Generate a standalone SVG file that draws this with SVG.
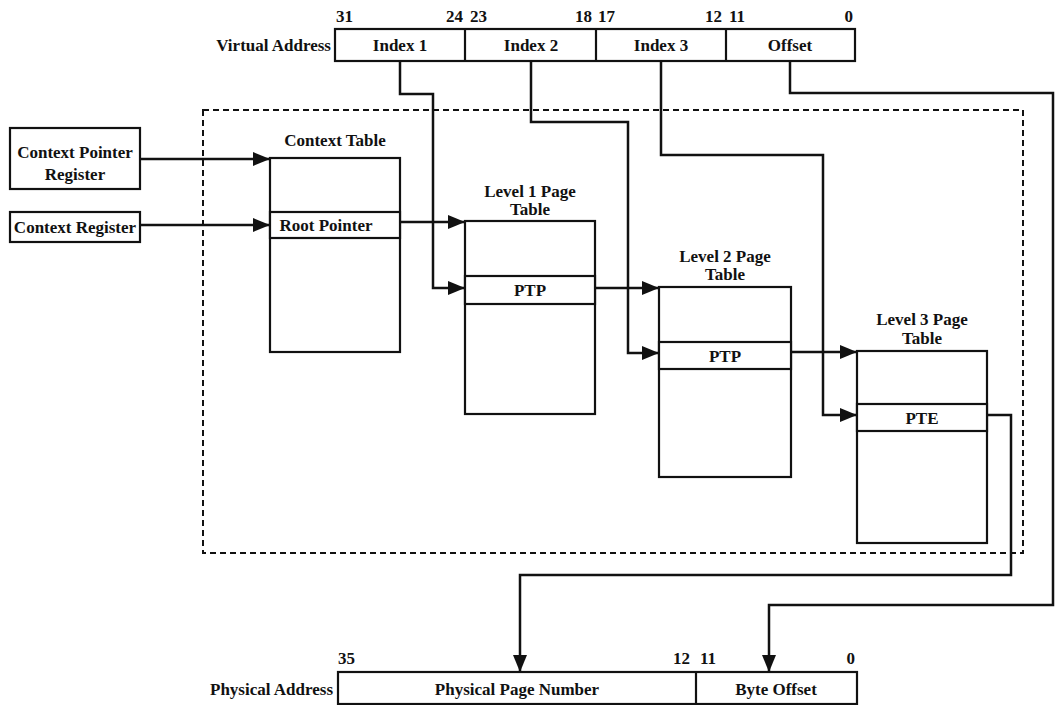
<svg xmlns="http://www.w3.org/2000/svg" width="1056" height="705" viewBox="0 0 1056 705">
<defs>
<style>
text{font-family:'Liberation Serif',Times,serif;font-weight:bold;font-size:17px;fill:#111}
.c{text-anchor:middle}
.e{text-anchor:end}
.box{fill:#fff;stroke:#111;stroke-width:2.2}
.ln{fill:none;stroke:#111;stroke-width:2.5}
.div{stroke:#111;stroke-width:2.2}
.dash{fill:none;stroke:#111;stroke-width:2;stroke-dasharray:6 4}
</style>
<marker id="ah" markerUnits="userSpaceOnUse" markerWidth="18" markerHeight="14" refX="17" refY="7" orient="auto">
<path d="M0,0 L17,7 L0,14 z" fill="#111"/>
</marker>
</defs>
<rect width="1056" height="705" fill="#fff"/>

<rect class="dash" x="203" y="110" width="820" height="443"/>

<g id="virtual-address">
<text class="e" x="331" y="51">Virtual Address</text>
<rect class="box" x="335" y="29" width="520" height="32"/>
<line class="div" x1="465" y1="29" x2="465" y2="61"/>
<line class="div" x1="596" y1="29" x2="596" y2="61"/>
<line class="div" x1="726" y1="29" x2="726" y2="61"/>
<text class="c" x="400" y="51">Index 1</text>
<text class="c" x="531" y="51">Index 2</text>
<text class="c" x="661" y="51">Index 3</text>
<text class="c" x="790" y="51">Offset</text>
<text x="336" y="22">31</text>
<text class="e" x="463" y="22">24</text>
<text x="470" y="22">23</text>
<text class="e" x="592" y="22">18</text>
<text x="598" y="22">17</text>
<text class="e" x="722" y="22">12</text>
<text x="729" y="22">11</text>
<text class="e" x="853" y="22">0</text>
</g>

<g id="context-pointer-register">
<rect class="box" x="10" y="128" width="130" height="61"/>
<text class="c" x="75" y="158">Context Pointer</text>
<text class="c" x="75" y="180">Register</text>
</g>

<g id="context-register">
<rect class="box" x="10" y="212" width="130" height="30"/>
<text class="c" x="75" y="233">Context Register</text>
</g>

<g id="context-table">
<text class="c" x="335" y="146">Context Table</text>
<rect class="box" x="270" y="158" width="130" height="194"/>
<rect class="box" x="270" y="212" width="130" height="26"/>
<text class="c" x="326" y="231">Root Pointer</text>
</g>

<g id="level1-table">
<text class="c" x="530" y="197">Level 1 Page</text>
<text class="c" x="530" y="215">Table</text>
<rect class="box" x="465" y="221" width="130" height="193"/>
<rect class="box" x="465" y="276" width="130" height="28"/>
<text class="c" x="530" y="296">PTP</text>
</g>

<g id="level2-table">
<text class="c" x="725" y="262">Level 2 Page</text>
<text class="c" x="725" y="280">Table</text>
<rect class="box" x="659" y="287" width="132" height="190"/>
<rect class="box" x="659" y="342" width="132" height="27"/>
<text class="c" x="725" y="362">PTP</text>
</g>

<g id="level3-table">
<text class="c" x="922" y="325">Level 3 Page</text>
<text class="c" x="922" y="344">Table</text>
<rect class="box" x="857" y="351" width="130" height="192"/>
<rect class="box" x="857" y="404" width="130" height="27"/>
<text class="c" x="922" y="424">PTE</text>
</g>

<g id="physical-address">
<text class="e" x="333" y="695">Physical Address</text>
<rect class="box" x="338" y="672" width="519" height="32"/>
<line class="div" x1="696" y1="672" x2="696" y2="704"/>
<text class="c" x="517" y="695">Physical Page Number</text>
<text class="c" x="776" y="695">Byte Offset</text>
<text x="338" y="664">35</text>
<text class="e" x="690" y="664">12</text>
<text x="700" y="664">11</text>
<text class="e" x="855" y="664">0</text>
</g>

<g id="connectors">
<path class="ln" d="M140,159 H270" marker-end="url(#ah)"/>
<path class="ln" d="M140,225 H270" marker-end="url(#ah)"/>
<path class="ln" d="M400,222 H465" marker-end="url(#ah)"/>
<path class="ln" d="M400,61 V94 H433 V288 H465" marker-end="url(#ah)"/>
<path class="ln" d="M595,288 H659" marker-end="url(#ah)"/>
<path class="ln" d="M531,61 V122 H628 V353 H659" marker-end="url(#ah)"/>
<path class="ln" d="M791,352 H857" marker-end="url(#ah)"/>
<path class="ln" d="M661,61 V155 H823 V415 H857" marker-end="url(#ah)"/>
<path class="ln" d="M987,415 H1011 V575 H520 V672" marker-end="url(#ah)"/>
<path class="ln" d="M790,61 V93 H1053 V605 H769 V672" marker-end="url(#ah)"/>
</g>
</svg>
